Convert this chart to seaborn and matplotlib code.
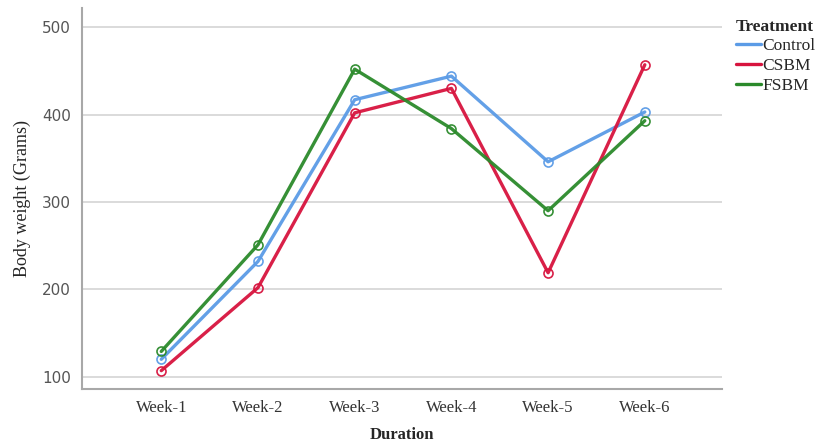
import matplotlib
matplotlib.use('Agg')
import matplotlib.pyplot as plt
from matplotlib.lines import Line2D
import seaborn as sns
import pandas as pd

# --- Data ---
weeks = ['Week-1', 'Week-2', 'Week-3', 'Week-4', 'Week-5', 'Week-6']
treatments = ['Control', 'CSBM', 'FSBM']
control = [120, 232, 417, 444, 346, 403]
csbm = [107, 202, 402, 430, 219, 457]
fsbm = [129, 251, 452, 384, 290, 393]
colors = {'Control': '#5b9be6', 'CSBM': '#d7143e', 'FSBM': '#2b8a2b'}

df = pd.DataFrame({
    'Duration': weeks * 3,
    'Weight': control + csbm + fsbm,
    'Treatment': sum([[t] * len(weeks) for t in treatments], []),
})

sns.set_style('white')
serif = ['Liberation Serif', 'DejaVu Serif']

fig = plt.figure(figsize=(8.15, 4.48), dpi=100)
ax = fig.add_axes([0.1006, 0.1317, 0.7855, 0.8505])

sns.lineplot(data=df, x='Duration', y='Weight', hue='Treatment', palette=colors,
             linewidth=2.4, marker='o', markersize=6.5, markerfacecolor='none',
             markeredgewidth=1.2, legend=False, ax=ax)

# seaborn paints marker edges white; give them the line colour (open circles)
for line in ax.lines:
    line.set_markeredgecolor(line.get_color())
    line.set_alpha(0.95)

ax.set_ylim(86, 522)
ax.set_xlim(-0.82, 5.8)
ax.set_yticks([100, 200, 300, 400, 500])
ax.yaxis.grid(True, color='#d4d4d4', linewidth=1.2)
ax.set_axisbelow(True)
for side in ['top', 'right']:
    ax.spines[side].set_visible(False)
for side in ['left', 'bottom']:
    ax.spines[side].set_color('#a8a8a8')
    ax.spines[side].set_linewidth(1.5)
ax.tick_params(length=0, pad=8)

for lbl in ax.get_xticklabels():
    lbl.set_family(serif)
    lbl.set_fontsize(12)
    lbl.set_color('#333333')
for lbl in ax.get_yticklabels():
    lbl.set_family(['DejaVu Sans'])
    lbl.set_fontsize(11)
    lbl.set_color('#555555')

ax.set_xlabel('Duration', family=serif, fontsize=12, fontweight='bold', labelpad=8)
ax.set_ylabel('Body weight (Grams)', family=serif, fontsize=13, labelpad=8)

handles = [Line2D([0], [0], color=colors[t], linewidth=2.4) for t in treatments]
leg = ax.legend(handles, treatments, title='Treatment', loc='upper left',
                bbox_to_anchor=(1.01, 0.99), frameon=False,
                prop={'family': serif, 'size': 12.5}, handlelength=1.45,
                handletextpad=0.1, labelspacing=0.2, borderaxespad=0,
                alignment='left')
leg.get_title().set_fontweight('bold')
leg.get_title().set_family(serif)
leg.get_title().set_fontsize(12.5)

fig.savefig('out.png', dpi=100)
plt.close(fig)
